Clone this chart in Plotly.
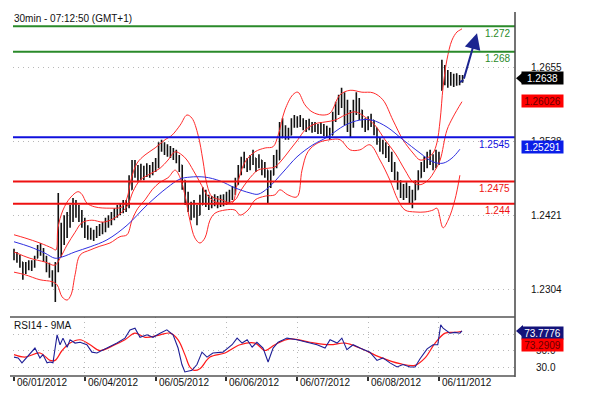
import plotly.graph_objects as go

W, H = 603, 394

# ---------------- data ----------------
hours = list(range(153))
close = [1.2359,1.2354,1.2348,1.2332,1.2339,1.2343,1.2342,1.2348,1.2364,1.2367,
         1.2354,1.2343,1.2332,1.2320,1.2335,1.2375,1.2383,1.2402,1.2406,1.2422,
         1.2427,1.2433,1.2422,1.2414,1.2399,1.2395,1.2391,1.2389,1.2395,1.2399,
         1.2402,1.2406,1.2411,1.2418,1.2424,1.2427,1.2430,1.2435,1.2436,1.2462,
         1.2493,1.2496,1.2485,1.2490,1.2487,1.2493,1.2490,1.2496,1.2500,1.2525,
         1.2533,1.2528,1.2525,1.2522,1.2517,1.2512,1.2501,1.2477,1.2454,1.2438,
         1.2427,1.2430,1.2418,1.2438,1.2454,1.2446,1.2438,1.2443,1.2446,1.2441,
         1.2443,1.2446,1.2449,1.2452,1.2457,1.2470,1.2490,1.2501,1.2509,1.2501,
         1.2506,1.2512,1.2501,1.2509,1.2496,1.2493,1.2477,1.2481,1.2501,1.2509,
         1.2541,1.2560,1.2552,1.2548,1.2564,1.2572,1.2569,1.2571,1.2566,1.2563,
         1.2566,1.2560,1.2561,1.2558,1.2560,1.2556,1.2553,1.2548,1.2575,1.2585,
         1.2596,1.2612,1.2596,1.2575,1.2564,1.2585,1.2604,1.2591,1.2572,1.2564,
         1.2569,1.2572,1.2560,1.2544,1.2533,1.2528,1.2525,1.2517,1.2501,1.2490,
         1.2474,1.2462,1.2459,1.2462,1.2454,1.2446,1.2462,1.2481,1.2493,1.2501,
         1.2509,1.2512,1.2506,1.2509,1.2512,1.2651,1.2643,1.2638,1.2638,1.2635,
         1.2637,1.2635,1.2638]
high = [1.2369,1.2364,1.2359,1.2348,1.2348,1.2351,1.2351,1.2358,1.2375,1.2378,
        1.2370,1.2358,1.2347,1.2335,1.2348,1.2457,1.2410,1.2422,1.2427,1.2438,
        1.2449,1.2446,1.2438,1.2430,1.2418,1.2406,1.2402,1.2399,1.2405,1.2408,
        1.2411,1.2418,1.2422,1.2427,1.2433,1.2438,1.2441,1.2446,1.2446,1.2485,
        1.2509,1.2509,1.2501,1.2503,1.2500,1.2504,1.2501,1.2506,1.2512,1.2537,
        1.2541,1.2537,1.2534,1.2531,1.2528,1.2525,1.2517,1.2501,1.2477,1.2459,
        1.2443,1.2446,1.2438,1.2454,1.2466,1.2462,1.2454,1.2452,1.2455,1.2452,
        1.2454,1.2455,1.2459,1.2462,1.2468,1.2481,1.2501,1.2514,1.2522,1.2512,
        1.2517,1.2525,1.2512,1.2518,1.2509,1.2506,1.2493,1.2493,1.2517,1.2525,
        1.2569,1.2575,1.2564,1.2560,1.2575,1.2580,1.2578,1.2580,1.2575,1.2572,
        1.2574,1.2569,1.2569,1.2566,1.2569,1.2566,1.2563,1.2560,1.2585,1.2601,
        1.2612,1.2623,1.2616,1.2604,1.2588,1.2604,1.2616,1.2607,1.2588,1.2575,
        1.2578,1.2582,1.2572,1.2560,1.2544,1.2541,1.2537,1.2531,1.2522,1.2506,
        1.2490,1.2477,1.2471,1.2474,1.2468,1.2462,1.2477,1.2493,1.2506,1.2515,
        1.2522,1.2525,1.2518,1.2525,1.2522,1.2667,1.2659,1.2651,1.2648,1.2645,
        1.2646,1.2643,1.2643]
low = [1.2351,1.2347,1.2339,1.2320,1.2329,1.2335,1.2334,1.2339,1.2354,1.2358,
       1.2348,1.2332,1.2323,1.2309,1.2285,1.2332,1.2356,1.2375,1.2386,1.2402,
       1.2411,1.2418,1.2411,1.2402,1.2386,1.2383,1.2383,1.2381,1.2386,1.2389,
       1.2392,1.2395,1.2402,1.2406,1.2414,1.2418,1.2422,1.2425,1.2427,1.2433,
       1.2462,1.2481,1.2474,1.2477,1.2477,1.2482,1.2481,1.2485,1.2490,1.2496,
       1.2522,1.2517,1.2514,1.2512,1.2509,1.2504,1.2490,1.2462,1.2438,1.2427,
       1.2414,1.2418,1.2406,1.2422,1.2438,1.2435,1.2430,1.2433,1.2436,1.2433,
       1.2435,1.2436,1.2438,1.2441,1.2446,1.2454,1.2470,1.2485,1.2496,1.2490,
       1.2493,1.2501,1.2490,1.2496,1.2485,1.2481,1.2441,1.2465,1.2485,1.2496,
       1.2509,1.2544,1.2541,1.2541,1.2548,1.2560,1.2560,1.2561,1.2556,1.2553,
       1.2556,1.2552,1.2553,1.2550,1.2550,1.2547,1.2544,1.2541,1.2548,1.2569,
       1.2580,1.2591,1.2564,1.2553,1.2545,1.2560,1.2580,1.2572,1.2560,1.2553,
       1.2556,1.2561,1.2548,1.2533,1.2522,1.2518,1.2512,1.2506,1.2490,1.2477,
       1.2462,1.2449,1.2446,1.2449,1.2441,1.2433,1.2446,1.2462,1.2481,1.2490,
       1.2496,1.2501,1.2493,1.2496,1.2501,1.2619,1.2627,1.2623,1.2626,1.2624,
       1.2626,1.2627,1.2631]

# Bollinger bands
bb_up_h = [0,3.7,8.8,12.9,14.2,14.9,16.6,19.0,21.7,23.0,24.7,27.4,32.5,36.6,38.3,39.6,41.7,44.4,
           47.8,51.2,53.5,56.3,58.6,60.3,62.4,64.0,65.4,67.1,70.5,73.9,75.6,78.3,81.7,85.1,87.8,
           89.5,91.8,94.5,96.2,98.6,101.0,104.4,107.1,110.5,113.9,117.9,121.7,125.0,128.4,131.8,
           135.2,137.6,140.0,142.0,143.3,144.4,145.4,146.7,148.4,150.1,151.1,151.8]
bb_up = [1.2391,1.2386,1.2378,1.2370,1.2367,1.2402,1.2430,1.2449,1.2459,1.2455,1.2441,1.2435,
         1.2433,1.2435,1.2449,1.2477,1.2504,1.2517,1.2528,1.2541,1.2548,1.2564,1.2580,1.2575,
         1.2548,1.2509,1.2470,1.2451,1.2446,1.2441,1.2470,1.2506,1.2522,1.2528,1.2530,1.2548,
         1.2588,1.2612,1.2616,1.2596,1.2585,1.2580,1.2583,1.2612,1.2619,1.2616,1.2615,1.2604,
         1.2572,1.2541,1.2520,1.2509,1.2512,1.2520,1.2536,1.2572,1.2624,1.2667,1.2698,1.2711,
         1.2714,1.2716]
bb_mid_h = [0,5.4,10.5,13.9,15.6,18.0,20.7,23.0,26.4,30.2,33.5,36.6,38.6,40.3,42.7,46.1,49.5,
            52.2,54.6,56.9,58.6,60.7,63.0,65.4,68.1,71.5,74.9,76.6,79.3,82.7,86.1,88.4,90.8,93.5,
            96.2,98.6,102.0,105.4,108.8,112.2,115.6,118.9,122.3,125.7,129.1,132.5,135.2,137.6,
            140.3,142.7,144.4,146.7,148.8,151.8]
bb_mid = [1.2364,1.2354,1.2348,1.2343,1.2354,1.2375,1.2395,1.2410,1.2414,1.2411,1.2416,1.2427,
          1.2438,1.2459,1.2477,1.2487,1.2496,1.2509,1.2522,1.2517,1.2509,1.2493,1.2474,1.2454,
          1.2443,1.2441,1.2446,1.2459,1.2477,1.2493,1.2496,1.2498,1.2509,1.2525,1.2541,1.2556,
          1.2566,1.2569,1.2572,1.2580,1.2585,1.2577,1.2564,1.2541,1.2520,1.2493,1.2474,1.2470,
          1.2477,1.2493,1.2509,1.2556,1.2577,1.2601]
bb_lo_h = [0,3.7,8.8,12.9,14.6,16.3,18.0,19.3,20.7,22.4,25.8,29.1,32.5,35.9,38.3,40.0,42.0,44.4,
           46.8,49.5,52.2,54.6,56.3,57.9,59.6,61.3,63.0,64.7,66.4,68.1,71.5,74.9,76.6,79.3,81.7,
           85.1,88.4,90.1,92.8,95.9,97.6,99.6,103.0,107.1,110.5,113.9,117.2,120.6,124.0,127.4,
           130.1,132.5,135.9,139.3,142.0,143.3,145.4,147.1,149.4,151.1]
bb_lo = [1.2332,1.2328,1.2320,1.2317,1.2312,1.2293,1.2288,1.2296,1.2328,1.2359,1.2367,1.2373,
         1.2378,1.2388,1.2391,1.2414,1.2433,1.2446,1.2462,1.2474,1.2481,1.2493,1.2481,1.2454,
         1.2414,1.2386,1.2378,1.2386,1.2414,1.2425,1.2430,1.2430,1.2422,1.2430,1.2446,1.2452,
         1.2454,1.2462,1.2454,1.2451,1.2493,1.2522,1.2536,1.2541,1.2541,1.2525,1.2525,1.2533,
         1.2509,1.2477,1.2446,1.2430,1.2427,1.2427,1.2430,1.2433,1.2402,1.2414,1.2446,1.2485]
# long moving average (blue)
ma_h = [0,5.4,10.5,13.9,16.3,20.7,25.8,31.5,38.3,45.1,51.8,56.3,59.6,64.7,69.8,74.9,80.0,82.7,
        86.1,91.2,95.9,101.3,106.1,112.2,117.2,121.3,126.4,131.8,137.6,142.0,145.4,148.4,151.1]
ma = [1.2380,1.2372,1.2362,1.2354,1.2356,1.2364,1.2372,1.2383,1.2406,1.2438,1.2465,1.2479,
      1.2482,1.2482,1.2476,1.2465,1.2457,1.2455,1.2465,1.2490,1.2514,1.2533,1.2545,1.2564,
      1.2572,1.2572,1.2561,1.2541,1.2520,1.2506,1.2504,1.2512,1.2526]

# RSI14 and its 9MA
rsi_h = [0,1.4,2.7,4.4,6.1,7.1,8.8,9.8,11.2,12.2,13.2,14.6,15.6,16.6,18.0,19.0,20.7,22.4,24.7,
         26.4,28.1,31.5,34.9,37.6,39.3,41.0,42.7,45.1,47.1,49.5,51.8,53.9,55.6,56.9,57.9,60.3,
         62.0,63.7,65.4,67.4,70.8,73.9,75.6,77.3,79.0,80.7,82.3,84.4,86.1,87.8,89.5,92.5,95.9,
         99.3,102.7,105.4,107.1,109.5,111.1,112.8,114.9,117.2,120.6,123.0,125.0,127.4,129.8,
         131.8,134.2,135.9,137.6,140.0,142.0,143.6,144.6,145.4,147.7,149.4,151.1,151.8]
rsi = [42,41,35,42,50,53,41,45,35,36,35,69,57,65,54,63,59,60,57,48,47,53,59,65,75,77,66,69,66,
       71,75,69,53,33,24,26,33,48,42,47,48,57,65,59,63,54,60,53,36,53,60,65,63,60,57,53,63,59,
       65,51,57,53,48,38,41,35,30,33,30,30,40,52,57,57,81,77,71,72,71,73.7776]
rsima_h = [0,3.7,8.8,12.2,13.9,16.3,19.0,22.4,25.8,29.1,34.2,37.6,41.0,44.4,49.5,52.9,55.6,57.9,
           59.6,61.0,63.0,66.4,71.5,76.6,81.7,85.1,88.4,93.5,100.3,107.1,112.2,117.2,124.0,130.8,
           135.9,139.3,142.7,146.1,149.4,151.8]
rsima = [45,42,47,38,38,50,59,63,57,50,57,63,71,66,69,71,63,45,30,26,28,42,47,57,59,50,57,64,60,
         57,59,53,42,34,32,41,59,71,72,73.2909]

# levels and labels
levels = [1.272, 1.268, 1.2545, 1.2475, 1.244]
level_text = ["1.272", "1.268", "1.2545", "1.2475", "1.244"]
level_colors = ["#2a8a2a", "#2a8a2a", "#1010dd", "#ee1111", "#ee1111"]
price_ticks = [1.2655, 1.2538, 1.2421, 1.2304]
rsi_ticks = [30, 50, 70]
last_price, upper_tag, ma_tag = 1.2638, 1.26026, 1.25291
rsi_last, rsima_last = 73.7776, 73.2909
day_hours = [0, 24, 48, 72, 96, 120, 144]
day_labels = ["06/01/2012", "06/04/2012", "06/05/2012", "06/06/2012",
              "06/07/2012", "06/08/2012", "06/11/2012"]
proj_h = [151.1, 152.3, 156.9]
proj_p = [1.2632, 1.2635, 1.2709]

# opens: previous close, kept within the bar range
opens = [close[0]] + close[:-1]
opens = [min(max(o, l), h) for o, l, h in zip(opens, low, high)]

# ---------------- figure ----------------
FONT = "Arial, Liberation Sans, sans-serif"
def px(x):
    return x / W
def py(y):
    return 1 - y / H

fig = go.Figure()
for bx, by in ((bb_up_h, bb_up), (bb_mid_h, bb_mid), (bb_lo_h, bb_lo)):
    fig.add_trace(go.Scatter(x=bx, y=by, mode="lines", line=dict(color="#ff2a2a", width=1, shape="spline"),
                             xaxis="x", yaxis="y", hoverinfo="skip"))
fig.add_trace(go.Scatter(x=ma_h, y=ma, mode="lines", line=dict(color="#2f2fe0", width=1, shape="spline"),
                         xaxis="x", yaxis="y", hoverinfo="skip"))
fig.add_trace(go.Ohlc(x=hours, open=opens, high=high, low=low, close=close,
                      increasing=dict(line=dict(color="#111111", width=1.6)),
                      decreasing=dict(line=dict(color="#111111", width=1.6)),
                      tickwidth=0.25, xaxis="x", yaxis="y"))
fig.add_trace(go.Scatter(x=proj_h[:2], y=proj_p[:2], mode="lines", line=dict(color="#1c2590", width=2),
                         xaxis="x", yaxis="y", hoverinfo="skip"))
fig.add_trace(go.Scatter(x=rsima_h, y=rsima, mode="lines", line=dict(color="#ff1a1a", width=1.2, shape="spline"),
                         xaxis="x2", yaxis="y2", hoverinfo="skip"))
fig.add_trace(go.Scatter(x=rsi_h, y=rsi, mode="lines", line=dict(color="#1f1f96", width=1.1),
                         xaxis="x2", yaxis="y2", hoverinfo="skip"))

shapes = []
annotations = []
for lv, col in zip(levels, level_colors):
    shapes.append(dict(type="line", xref="x domain", yref="y", x0=0, x1=1, y0=lv, y1=lv,
                       line=dict(color=col, width=2)))
for lv, txt, col in zip(levels, level_text, level_colors):
    annotations.append(dict(text=txt, xref="paper", yref="y", x=px(512), y=lv, yshift=-7,
                            xanchor="right", yanchor="middle", showarrow=False,
                            font=dict(family=FONT, size=10, color=col)))
# right axis line and RSI panel borders
shapes.append(dict(type="line", xref="paper", yref="paper", x0=px(515), x1=px(515), y0=py(12), y1=py(377),
                   line=dict(color="#444444", width=1.5)))
for yy in (317, 376):
    shapes.append(dict(type="line", xref="paper", yref="paper", x0=px(10), x1=px(515), y0=py(yy), y1=py(yy),
                       line=dict(color="#555555", width=1.5)))

# price scale labels
for v in price_ticks:
    annotations.append(dict(text=f"{v:.4f}", xref="paper", yref="y", x=px(546), y=v, xanchor="center",
                            yanchor="middle", showarrow=False, font=dict(family=FONT, size=10, color="#111")))
for v in rsi_ticks:
    annotations.append(dict(text=f"{v:.1f}", xref="paper", yref="y2", x=px(546), y=v, xanchor="center",
                            yanchor="middle", showarrow=False, font=dict(family=FONT, size=10, color="#111")))

def tag(val, yref, bg, fg, arrow=False, yshift=0):
    annotations.append(dict(text=f"{val}", xref="paper", yref=yref, x=px(542.5), y=val, yshift=yshift,
                            xanchor="center", yanchor="middle", showarrow=False, bgcolor=bg,
                            width=39, height=10, borderpad=1,
                            font=dict(family=FONT, size=10, color=fg)))
    if arrow:
        shapes.append(dict(type="path", xref="paper", yref=yref, xsizemode="pixel", ysizemode="pixel",
                           xanchor=px(516), yanchor=val, path="M0,0 L7,6 L7,-6 Z",
                           fillcolor=bg, line=dict(width=0)))

tag(last_price, "y", "#000000", "#ffffff", arrow=True)
tag(upper_tag, "y", "#ff0000", "#6a0000")
tag(ma_tag, "y", "#0a1ee8", "#ffffff")
tag(rsi_last, "y2", "#13137a", "#ffffff", arrow=True, yshift=-2)
tag(rsima_last, "y2", "#ff0000", "#6a0000", yshift=-14)

# date labels
for hh, lab in zip(day_hours, day_labels):
    annotations.append(dict(text=lab, xref="x2", yref="paper", x=hh, y=py(382), xshift=1,
                            xanchor="left", yanchor="middle", showarrow=False,
                            font=dict(family=FONT, size=10, color="#111")))
annotations.append(dict(text="30min - 07:12:50 (GMT+1)", xref="paper", yref="paper", x=px(12), y=py(18),
                        xanchor="left", yanchor="middle", showarrow=False,
                        font=dict(family=FONT, size=10, color="#111")))
annotations.append(dict(text="RSI14 - 9MA", xref="paper", yref="paper", x=px(12), y=py(325),
                        xanchor="left", yanchor="middle", showarrow=False,
                        font=dict(family=FONT, size=10, color="#111")))
# projection arrow
annotations.append(dict(text="", x=proj_h[2], y=proj_p[2], ax=proj_h[1], ay=proj_p[1],
                        xref="x", yref="y", axref="x", ayref="y", showarrow=True,
                        arrowhead=2, arrowsize=1.6, arrowwidth=2, arrowcolor="#1c2590"))

xrange = [-0.339, 169.77]
GRID = dict(showgrid=True, gridcolor="#b8b8b8", griddash="1px,4px", gridwidth=1)
fig.update_layout(
    width=W, height=H, margin=dict(l=0, r=0, t=0, b=0),
    paper_bgcolor="white", plot_bgcolor="white", showlegend=False,
    xaxis=dict(domain=[px(13), px(515)], range=xrange, anchor="y", showticklabels=False,
               showgrid=False, zeroline=False, ticks="", rangeslider=dict(visible=False), fixedrange=True),
    yaxis=dict(domain=[py(310), py(10)], range=[1.22723, 1.27457], anchor="x", showticklabels=False,
               tickvals=price_ticks, zeroline=False, ticks="", **GRID),
    xaxis2=dict(domain=[px(13), px(515)], range=xrange, anchor="y2", matches="x", showticklabels=False,
                tickvals=day_hours, ticks="outside", ticklen=4, tickcolor="#333", tickwidth=1.5,
                zeroline=False, rangeslider=dict(visible=False), **GRID),
    yaxis2=dict(domain=[py(376), py(317)], range=[19.09, 90.6], anchor="x2", showticklabels=False,
                tickvals=rsi_ticks, zeroline=False, ticks="", **GRID),
    shapes=shapes, annotations=annotations,
)
fig.write_html("out.html")
